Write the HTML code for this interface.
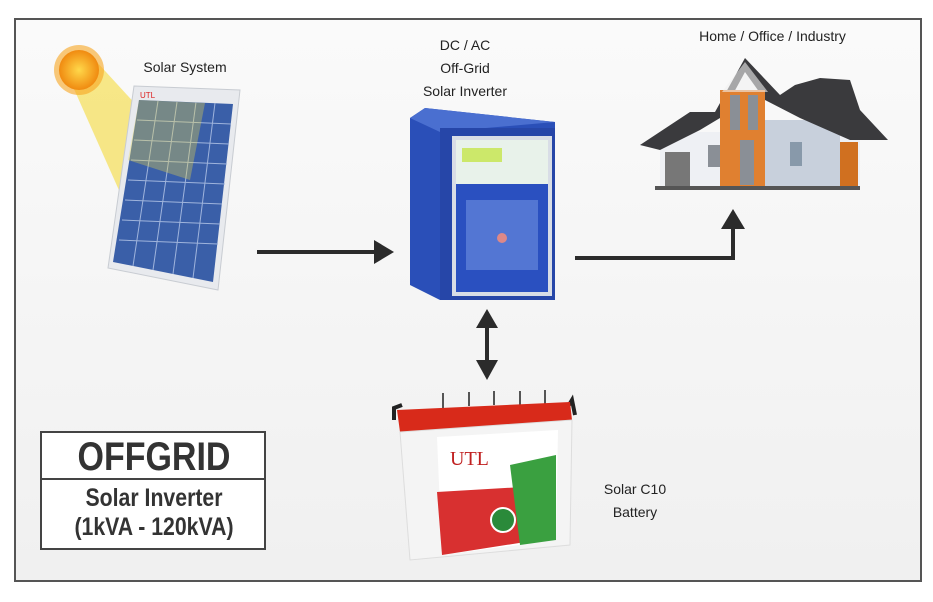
<!DOCTYPE html>
<html><head><meta charset="utf-8"><style>
body{margin:0;width:933px;height:602px;background:#fff;position:relative;overflow:hidden;font-family:"Liberation Sans",sans-serif}
.t{position:absolute;font-size:14px;color:#222;text-align:center;line-height:23px}
</style></head><body>
<div style="position:absolute;left:14px;top:18px;width:904px;height:560px;border:2px solid #555;background:linear-gradient(#fafafa,#f0f0f0)"></div>
<svg width="933" height="602" style="position:absolute;left:0;top:0">
<defs><radialGradient id="sun"><stop offset="0" stop-color="#ffd84a"/><stop offset="1" stop-color="#f08a10"/></radialGradient></defs>
<polygon points="70,80 95,60 205,180 150,260" fill="#f5e060" opacity="0.75"/>
<circle cx="79" cy="70" r="25" fill="#f7a520" opacity="0.6"/>
<circle cx="79" cy="70" r="20" fill="url(#sun)"/>
<polygon points="134,86 240,90 218,290 108,268" fill="#e8eaee" stroke="#c8ccd2"/>
<polygon points="139,100 233,104 213,282 113,262" fill="#3a5fa8"/>
<g stroke="#9fb4dc" stroke-width="1">
<line x1="158" y1="101" x2="133" y2="266"/><line x1="177" y1="102" x2="153" y2="270"/><line x1="196" y1="102" x2="173" y2="274"/><line x1="215" y1="103" x2="193" y2="278"/>
<line x1="137" y1="120" x2="231" y2="124"/><line x1="134" y1="140" x2="229" y2="144"/><line x1="131" y1="160" x2="227" y2="164"/><line x1="128" y1="180" x2="225" y2="184"/><line x1="125" y1="200" x2="222" y2="204"/><line x1="122" y1="220" x2="220" y2="224"/><line x1="119" y1="240" x2="218" y2="244"/>
</g>
<polygon points="139,100 205,103 190,180 128,160" fill="#e8d84a" opacity="0.35"/>
<text x="140" y="98" font-size="8" fill="#d22">UTL</text>
<polygon points="410,118 425,108 555,122 555,300 440,300 410,285" fill="#2a4fb8"/>
<polygon points="410,118 425,108 555,122 440,132" fill="#4a6fd0"/>
<rect x="440" y="128" width="115" height="172" fill="#2646a8"/>
<rect x="454" y="138" width="96" height="156" fill="none" stroke="#d8dde6" stroke-width="4"/>
<rect x="456" y="140" width="92" height="44" fill="#e8f2ea"/>
<rect x="462" y="148" width="40" height="14" fill="#cce86a"/>
<rect x="456" y="184" width="92" height="108" fill="#2a50c0"/>
<g fill="#6f8fe0" opacity="0.6"><rect x="466" y="200" width="72" height="70"/></g>
<circle cx="502" cy="238" r="5" fill="#d88"/>
<!-- house -->
<rect x="660" y="132" width="200" height="56" fill="#eef0f4"/>
<rect x="765" y="120" width="75" height="68" fill="#c8d0dc"/>
<polygon points="640,145 690,112 715,112 745,58 780,95 795,85 820,78 850,80 860,110 888,140 850,140 800,118 765,100 745,72 720,118 700,130 660,150" fill="#3a3a3d"/>
<rect x="720" y="90" width="45" height="98" fill="#e08030"/>
<polygon points="722,92 745,62 768,92" fill="#f0f0f0" opacity="0.6"/>
<rect x="730" y="95" width="10" height="35" fill="#8a8f96"/><rect x="748" y="95" width="10" height="35" fill="#8a8f96"/>
<rect x="665" y="152" width="25" height="34" fill="#777"/>
<rect x="740" y="140" width="14" height="45" fill="#8a8f96"/>
<rect x="708" y="145" width="12" height="22" fill="#8a8f96"/><rect x="790" y="142" width="12" height="24" fill="#89a"/>
<rect x="840" y="142" width="18" height="44" fill="#d07020"/>
<rect x="655" y="186" width="205" height="4" fill="#555"/>
<g fill="#2b2b2b" stroke="#2b2b2b">
<line x1="257" y1="252" x2="376" y2="252" stroke-width="4"/>
<polygon points="374,240 394,252 374,264" stroke="none"/>
<polyline points="575,258 733,258 733,226" fill="none" stroke-width="4"/>
<polygon points="721,229 733,209 745,229" stroke="none"/>
<line x1="487" y1="325" x2="487" y2="365" stroke-width="4"/>
<polygon points="476,328 487,309 498,328" stroke="none"/>
<polygon points="476,360 487,380 498,360" stroke="none"/>
</g>
<g stroke="#555" stroke-width="2">
<line x1="443" y1="393" x2="443" y2="408"/><line x1="469" y1="392" x2="469" y2="406"/><line x1="494" y1="391" x2="494" y2="405"/><line x1="520" y1="391" x2="520" y2="405"/><line x1="545" y1="390" x2="545" y2="404"/>
</g>
<path d="M394,420 L394,408 L402,405" fill="none" stroke="#222" stroke-width="4"/>
<path d="M566,410 L572,400 L575,415" fill="none" stroke="#222" stroke-width="4"/>
<polygon points="397,410 570,402 572,420 400,432" fill="#d82a1a"/>
<polygon points="400,432 572,420 570,545 410,560" fill="#f4f4f4" stroke="#ddd"/>
<polygon points="437,437 558,430 556,540 442,555" fill="#fff"/>
<polygon points="437,492 540,486 538,540 442,555" fill="#d83030"/>
<polygon points="510,465 556,455 556,540 520,545" fill="#3aa040"/>
<circle cx="503" cy="520" r="12" fill="#2a8a3a" stroke="#fff" stroke-width="2"/>
<text x="450" y="465" font-family="Liberation Serif" font-size="20" fill="#c02020">UTL</text>
<rect x="41" y="432" width="224" height="117" fill="#fff" stroke="#444" stroke-width="2"/>
<line x1="41" y1="479" x2="265" y2="479" stroke="#444" stroke-width="2"/>
</svg>
<div class="t" style="left:130px;top:56px;width:110px">Solar System</div>
<div class="t" style="left:405px;top:34px;width:120px">DC / AC<br>Off-Grid<br>Solar Inverter</div>
<div class="t" style="left:675px;top:25px;width:195px">Home / Office / Industry</div>
<div class="t" style="left:590px;top:478px;width:90px">Solar C10<br>Battery</div>
<div style="position:absolute;left:41px;top:434px;width:226px;text-align:center;font-weight:bold;font-size:40px;color:#333;transform:scaleX(0.85);line-height:46px">OFFGRID</div>
<div style="position:absolute;left:41px;top:484px;width:226px;text-align:center;font-weight:bold;font-size:25px;color:#333;line-height:29px;transform:scaleX(0.85)">Solar Inverter<br>(1kVA - 120kVA)</div>
</body></html>
